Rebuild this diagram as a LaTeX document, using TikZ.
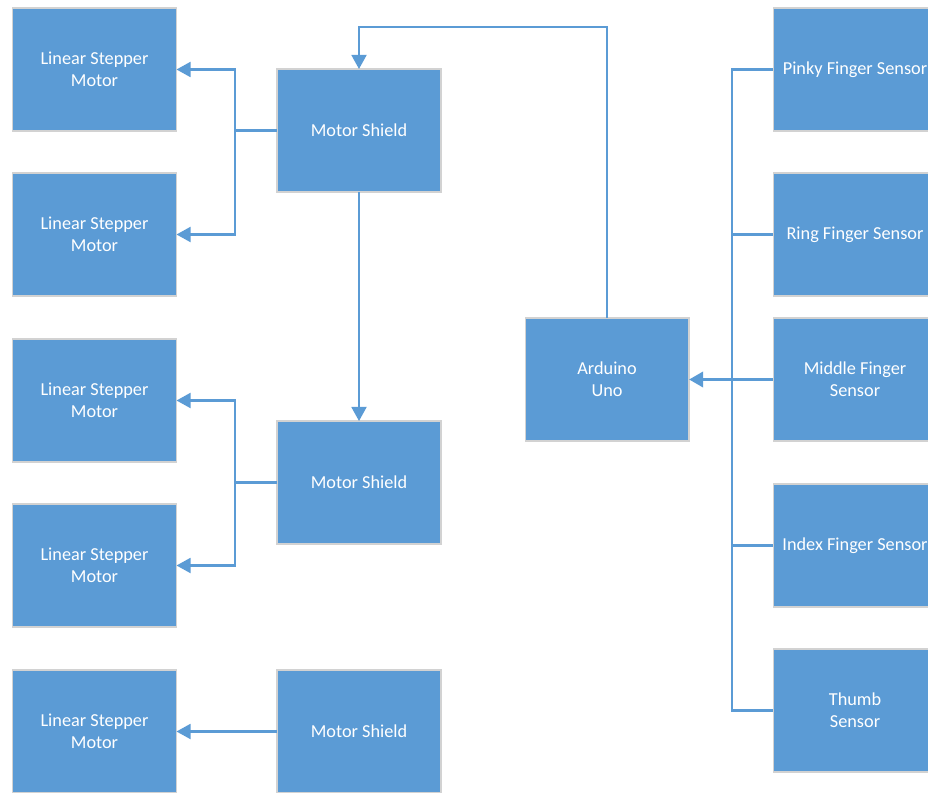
\documentclass[tikz,border=0pt]{standalone}
\usepackage{fontspec}
\setmainfont{Carlito}
\usetikzlibrary{arrows.meta, calc}
\definecolor{boxblue}{HTML}{5B9BD5}
\tikzset{
    block/.style = {rectangle, fill=boxblue, draw=gray!35, line width=0.6pt,
        text=white, align=center, inner sep=0pt, outer sep=0pt,
        minimum width=3.28cm, minimum height=2.46cm,
        font=\fontsize{10.4}{12.5}\selectfont},
    link/.style = {draw=boxblue, line width=1.2pt},
    arrow/.style = {link, -{Triangle[length=8pt,width=8.5pt]}}
}
\begin{document}
\begin{tikzpicture}[x=0.02cm, y=-0.02cm]
    \useasboundingbox (0,0) rectangle (928,793);

    % Draw the stepper motors
    \foreach \name/\y in {ma/69.5, mb/234.5, mc/400.5, md/565.5, me/731.5}{
        \node[block] (\name) at (94.5,\y) {Linear Stepper\\Motor};
    }

    % Draw the motor shields
    \foreach \name/\y in {sa/130.5, sb/482.5, sc/731.5}{
        \node[block] (\name) at (359,\y) {Motor Shield};
    }

    % Draw the board
    \node[block] (uno) at (607,379.5) {Arduino\\Uno};

    % Draw the finger sensors
    \node[block] (pinky)  at (855,69.5)  {Pinky Finger Sensor};
    \node[block] (ring)   at (855,234.5) {Ring Finger Sensor};
    \node[block] (middle) at (855,379.5) {Middle Finger\\Sensor};
    \node[block] (index)  at (855,545.5) {Index Finger Sensor};
    \node[block] (thumb)  at (855,710.5) {Thumb\\Sensor};

    % Shields to motors
    \coordinate (ja) at ($(sa.west)+(-42,0)$);
    \coordinate (jb) at ($(sb.west)+(-42,0)$);
    \draw[link] (sa.west) -- (ja);
    \draw[arrow] (ja) |- (ma.east);
    \draw[arrow] (ja) |- (mb.east);
    \draw[link] (sb.west) -- (jb);
    \draw[arrow] (jb) |- (mc.east);
    \draw[arrow] (jb) |- (md.east);
    \draw[arrow] (sc.west) -- (me.east);

    % Board to shields
    \coordinate (top) at (0,27);
    \draw[arrow] (uno.north) -- (uno.north |- top) -| (sa.north);
    \draw[arrow] (sa.south) -- (sb.north);

    % Sensors to board
    \coordinate (bus) at (732,0);
    \draw[link] (pinky.west) -- (pinky.west -| bus) -- (thumb.west -| bus) -- (thumb.west);
    \foreach \name in {ring, index}
        \draw[link] (\name.west) -- (\name.west -| bus);
    \draw[arrow, line width=2pt] (middle.west) -- (uno.east);

\end{tikzpicture}
\end{document}
